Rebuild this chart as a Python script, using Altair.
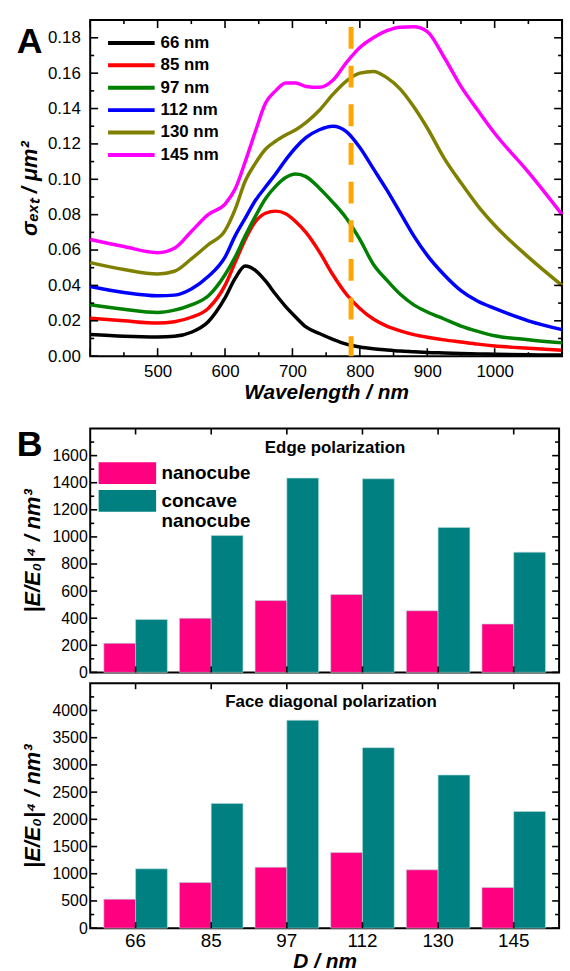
import altair as alt
import pandas as pd

FONT = "Liberation Sans"

# ---------------- Panel A data ----------------
wavelength = [400, 450, 500, 525, 550, 575, 600, 615, 630, 645, 660, 675, 690, 705, 720,
              740, 760, 780, 800, 820, 840, 860, 880, 900, 925, 950, 975, 1000, 1050, 1100]
sigma_66 = [0.0122, 0.0112, 0.0108, 0.0112, 0.0135, 0.0195, 0.033, 0.044, 0.051, 0.0485, 0.0425,
            0.035, 0.028, 0.022, 0.0165, 0.0128, 0.0095, 0.0068, 0.0052, 0.0042, 0.0035, 0.0029,
            0.0025, 0.0021, 0.0018, 0.0015, 0.0013, 0.0011, 0.0008, 0.0006]
sigma_85 = [0.0215, 0.020, 0.0187, 0.0195, 0.022, 0.027, 0.040, 0.053, 0.066, 0.076, 0.0808,
            0.082, 0.0805, 0.076, 0.070, 0.059, 0.046, 0.035, 0.027, 0.021, 0.017, 0.0143,
            0.0122, 0.0107, 0.0092, 0.008, 0.0068, 0.0058, 0.0045, 0.0034]
sigma_97 = [0.0291, 0.0265, 0.0247, 0.026, 0.029, 0.034, 0.046, 0.056, 0.068, 0.079, 0.089,
            0.096, 0.101, 0.103, 0.1015, 0.095, 0.087, 0.078, 0.066, 0.052, 0.043, 0.035,
            0.029, 0.025, 0.021, 0.017, 0.014, 0.0115, 0.0093, 0.0075]
sigma_112 = [0.0394, 0.036, 0.0341, 0.0345, 0.038, 0.045, 0.056, 0.068, 0.078, 0.088, 0.0956,
             0.103, 0.111, 0.118, 0.1235, 0.128, 0.130, 0.127, 0.118, 0.106, 0.094, 0.081,
             0.068, 0.057, 0.046, 0.037, 0.031, 0.027, 0.020, 0.015]
sigma_130 = [0.0529, 0.049, 0.0465, 0.048, 0.055, 0.063, 0.071, 0.083, 0.099, 0.109, 0.117,
             0.1215, 0.125, 0.128, 0.132, 0.139, 0.148, 0.1555, 0.160, 0.161, 0.1575, 0.151,
             0.141, 0.129, 0.112, 0.098, 0.085, 0.074, 0.056, 0.040]
sigma_145 = [0.066, 0.062, 0.0585, 0.061, 0.0705, 0.080, 0.086, 0.0945, 0.110, 0.127, 0.143,
             0.150, 0.1545, 0.1545, 0.1525, 0.152, 0.156, 0.166, 0.1745, 0.180, 0.184, 0.186,
             0.1862, 0.1835, 0.169, 0.1525, 0.139, 0.126, 0.104, 0.080]
sizes = ["66 nm", "85 nm", "97 nm", "112 nm", "130 nm", "145 nm"]
line_colors = ["#000000", "#FF0000", "#008000", "#0000FF", "#808000", "#FF00FF"]
marker_wavelength = [787]

xA_major = [400, 500, 600, 700, 800, 900, 1000, 1100]
xA_minor = [450, 550, 650, 750, 850, 950, 1050]
xA_labels = [500, 600, 700, 800, 900, 1000]
yA_major = [0.0, 0.02, 0.04, 0.06, 0.08, 0.10, 0.12, 0.14, 0.16, 0.18]
yA_minor = [0.01, 0.03, 0.05, 0.07, 0.09, 0.11, 0.13, 0.15, 0.17]

# ---------------- Panel B data ----------------
diameters = ["66", "85", "97", "112", "130", "145"]
types = ["nanocube", "concave nanocube"]
type_labels = ["nanocube", "concave\nnanocube"]
bar_colors = ["#FF0080", "#008080"]
edge_nanocube = [215, 400, 530, 575, 455, 357]
edge_concave = [390, 1010, 1434, 1429, 1070, 887]
face_nanocube = [533, 838, 1120, 1389, 1072, 749]
face_concave = [1090, 2293, 3820, 3317, 2814, 2144]

edge_major = [0, 200, 400, 600, 800, 1000, 1200, 1400, 1600]
edge_minor = [100, 300, 500, 700, 900, 1100, 1300, 1500, 1700]
face_major = [0, 500, 1000, 1500, 2000, 2500, 3000, 3500, 4000]
face_minor = [250, 750, 1250, 1750, 2250, 2750, 3250, 3750, 4250]

WA, HA = 476, 339
WB, HB1, HB2 = 473, 246, 247
MAJ, MIN = 8, 4

color_A = alt.Scale(domain=sizes, range=line_colors)
color_B = alt.Scale(domain=types, range=bar_colors)


def x_ticks(values, field_type, scale, H, length):
    df = pd.DataFrame({"tx": values})
    base = alt.Chart(df).mark_rule(color="black", strokeWidth=1.6)
    enc = alt.X("tx:" + field_type, scale=scale, axis=None)
    return [base.encode(x=enc, y=alt.value(H), y2=alt.value(H - length)),
            base.encode(x=enc, y=alt.value(0), y2=alt.value(length))]


def y_ticks(values, scale, W, length):
    df = pd.DataFrame({"ty": values})
    base = alt.Chart(df).mark_rule(color="black", strokeWidth=1.6)
    enc = alt.Y("ty:Q", scale=scale, axis=None)
    return [base.encode(y=enc, x=alt.value(0), x2=alt.value(length)),
            base.encode(y=enc, x=alt.value(W), x2=alt.value(W - length))]


# ---------------- Panel A ----------------
rows = []
for name, vals in zip(sizes, [sigma_66, sigma_85, sigma_97, sigma_112, sigma_130, sigma_145]):
    for w, v in zip(wavelength, vals):
        rows.append({"wl": w, "sigma": v, "size": name})
dfA = pd.DataFrame(rows)

xsA = alt.Scale(domain=[400, 1100], nice=False, zero=False)
ysA = alt.Scale(domain=[0, 0.19], nice=False, zero=False)

lines = alt.Chart(dfA).mark_line(strokeWidth=3.5, interpolate="monotone").encode(
    x=alt.X("wl:Q", scale=xsA, axis=alt.Axis(
        values=xA_labels, format="d", title="Wavelength / nm", ticks=False, domain=False,
        labelFontSize=17, labelPadding=8, titleFontSize=21, titleFontWeight="bold",
        titleFontStyle="italic", titlePadding=2)),
    y=alt.Y("sigma:Q", scale=ysA, axis=alt.Axis(
        values=yA_major, format=".2f", title="σₑₓₜ / μm²", ticks=False, domain=False,
        labelFontSize=17, labelPadding=10, titleFontSize=22, titleFontWeight="bold",
        titleFontStyle="italic", titlePadding=6)),
    color=alt.Color("size:N", scale=color_A, legend=None),
    order=alt.Order("wl:Q"),
)

dash = alt.Chart(pd.DataFrame({"mw": marker_wavelength})).mark_rule(
    color="#FFA500", strokeWidth=5, strokeDash=[22, 17]).encode(
    x=alt.X("mw:Q", scale=xsA, axis=None), y=alt.value(7), y2=alt.value(HA))

leg_scale_A = alt.Scale(type="point", domain=sizes, range=[23, 136], padding=0)
legA_lines = alt.Chart(pd.DataFrame({"size": sizes})).mark_rule(strokeWidth=4).encode(
    x=alt.value(18), x2=alt.value(65),
    y=alt.Y("size:N", scale=leg_scale_A, axis=None),
    color=alt.Color("size:N", scale=color_A, legend=None))
legA_text = alt.Chart(pd.DataFrame({"size": sizes})).mark_text(
    align="left", baseline="middle", fontSize=17, fontWeight="bold", color="black").encode(
    x=alt.value(71), y=alt.Y("size:N", scale=leg_scale_A, axis=None), text="size:N")

labelA = alt.Chart(pd.DataFrame({"t": ["A"]})).mark_text(
    align="left", baseline="alphabetic", fontSize=36, fontWeight="bold", color="black").encode(
    x=alt.value(-74), y=alt.value(33), text="t:N")

panelA = alt.layer(
    lines, dash,
    *x_ticks(xA_major, "Q", xsA, HA, MAJ), *x_ticks(xA_minor, "Q", xsA, HA, MIN),
    *y_ticks(yA_major, ysA, WA, MAJ), *y_ticks(yA_minor, ysA, WA, MIN),
    legA_lines, legA_text, labelA,
).resolve_scale(y="independent").resolve_axis(x="independent").properties(width=WA, height=HA)


# ---------------- Panel B ----------------
def bar_panel(nano, concave, ymax, major, minor, H, caption, cap_x, cap_y, bottom, letter):
    rowsB = []
    for d, a, b in zip(diameters, nano, concave):
        rowsB.append({"D": d, "type": types[0], "E": a})
        rowsB.append({"D": d, "type": types[1], "E": b})
    df = pd.DataFrame(rowsB)
    xs = alt.Scale(domain=diameters, paddingInner=0.16, paddingOuter=0.18)
    ys = alt.Scale(domain=[0, ymax], nice=False)
    if bottom:
        xaxis = alt.Axis(title="D / nm", ticks=False, domain=False, labelAngle=0,
                         labelFontSize=19, labelPadding=4, titleFontSize=21,
                         titleFontWeight="bold", titleFontStyle="italic", titlePadding=0)
    else:
        xaxis = None
    bars = alt.Chart(df).mark_bar(stroke="#b8dcdc", strokeWidth=0.6).encode(
        x=alt.X("D:N", sort=diameters, scale=xs, axis=xaxis),
        xOffset=alt.XOffset("type:N", sort=types,
                            scale=alt.Scale(domain=types, paddingInner=0, paddingOuter=0)),
        y=alt.Y("E:Q", scale=ys, axis=alt.Axis(
            values=major, format="d", title="|E/E₀|⁴ / nm³", ticks=False, domain=False,
            labelFontSize=16, labelPadding=3, titleFontSize=22, titleFontStyle="italic",
            titleFontWeight="bold", titlePadding=8)),
        color=alt.Color("type:N", scale=color_B, legend=None),
    )
    cap = alt.Chart(pd.DataFrame({"t": [caption]})).mark_text(
        align="center", baseline="middle", fontSize=17, fontWeight="bold", color="black").encode(
        x=alt.value(cap_x), y=alt.value(cap_y), text="t:N")
    layers = [bars,
              *x_ticks(diameters, "N", xs, H, 6),
              *y_ticks(major, ys, WB, 7), *y_ticks(minor, ys, WB, 4),
              cap]
    if letter:
        leg_scale = alt.Scale(type="point", domain=types, range=[45, 73], padding=0)
        dfl = pd.DataFrame({"type": types, "label": type_labels})
        leg_sym = alt.Chart(dfl).mark_point(
            shape="M-1,-0.38H1V0.38H-1Z", filled=True, size=3364, opacity=1,
            strokeWidth=0).encode(
            x=alt.value(37.5), y=alt.Y("type:N", scale=leg_scale, axis=None),
            color=alt.Color("type:N", scale=color_B, legend=None))
        leg_txt = alt.Chart(dfl).mark_text(
            align="left", baseline="middle", fontSize=19, fontWeight="bold",
            color="black", lineBreak="\n", lineHeight=20).encode(
            x=alt.value(72), y=alt.Y("type:N", scale=leg_scale, axis=None), text="label:N")
        lab = alt.Chart(pd.DataFrame({"t": [letter]})).mark_text(
            align="left", baseline="alphabetic", fontSize=36, fontWeight="bold",
            color="black").encode(x=alt.value(-74), y=alt.value(28), text="t:N")
        layers += [leg_sym, leg_txt, lab]
    return (alt.layer(*layers).resolve_scale(y="independent")
            .resolve_axis(x="independent").properties(width=WB, height=H))


edge = bar_panel(edge_nanocube, edge_concave, 1800, edge_major, edge_minor, HB1,
                 "Edge polarization", 247, 20, False, "B")
face = bar_panel(face_nanocube, face_concave, 4500, face_major, face_minor, HB2,
                 "Face diagonal polarization", 243, 19, True, None)

panelB = alt.vconcat(edge, face, spacing=0)

chart = alt.vconcat(panelA, panelB, spacing=23).resolve_scale(color="independent").configure(
    font=FONT,
    padding={"left": 16, "top": 14, "right": 0, "bottom": 0},
).configure_view(stroke="black", strokeWidth=2).configure_axis(
    grid=False, labelColor="black", titleColor="black", labelFont=FONT, titleFont=FONT)

chart.save("out.html", embed_options={"renderer": "svg", "actions": False})
